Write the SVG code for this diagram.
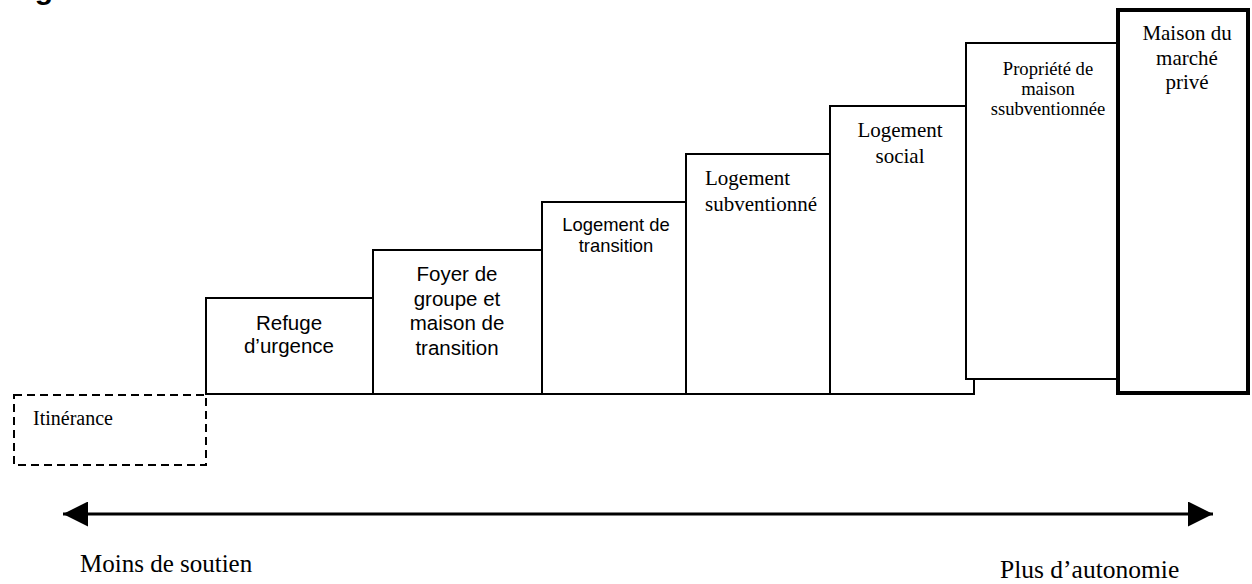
<svg xmlns="http://www.w3.org/2000/svg" width="1252" height="584" viewBox="0 0 1252 584">
<style>
.box{fill:#fff;stroke:#000;stroke-width:2}
.thick{fill:#fff;stroke:#000;stroke-width:4}
.dash{fill:none;stroke:#000;stroke-width:2;stroke-dasharray:8 5}
.sans{font-family:"Liberation Sans",Arial,sans-serif;fill:#000}
.serif{font-family:"Liberation Serif","Times New Roman",serif;fill:#000}
.c{text-anchor:middle}
.conn{stroke:#000;stroke-width:3;fill:none}
</style>
<defs>
<marker id="ah" viewBox="0 0 25 25" refX="25" refY="12.5" markerWidth="25" markerHeight="25" markerUnits="userSpaceOnUse" orient="auto-start-reverse">
<path d="M0,0 L25,12.5 L0,25 Z" fill="#000"/>
</marker>
</defs>
<rect width="1252" height="584" fill="#fff"/>
<text class="sans" x="8" y="-1.3" font-size="30" font-weight="bold">Figure</text>

<g id="itinerance">
<rect class="dash" x="14" y="395" width="192" height="70"/>
<text class="serif" x="33" y="425" font-size="20">Itinérance</text>
</g>
<g id="refuge">
<rect class="box" x="206" y="298" width="167" height="96"/>
<text class="sans c" x="289" y="330" font-size="20.5"><tspan x="289">Refuge</tspan><tspan x="289" dy="23">d’urgence</tspan></text>
</g>
<g id="foyer">
<rect class="box" x="373" y="250" width="169" height="144"/>
<text class="sans c" x="457" y="281" font-size="20.5"><tspan x="457">Foyer de</tspan><tspan x="457" dy="24.5">groupe et</tspan><tspan x="457" dy="24.5">maison de</tspan><tspan x="457" dy="24.5">transition</tspan></text>
</g>
<g id="transition">
<rect class="box" x="542" y="202" width="144" height="192"/>
<text class="sans c" x="616" y="231" font-size="18.4"><tspan x="616">Logement de</tspan><tspan x="616" dy="21">transition</tspan></text>
</g>
<g id="subventionne">
<rect class="box" x="686" y="154" width="144" height="240"/>
<text class="serif" x="705" y="185" font-size="21"><tspan x="705">Logement</tspan><tspan x="705" dy="25.5">subventionné</tspan></text>
</g>
<g id="social">
<rect class="box" x="830" y="106" width="144" height="288"/>
<text class="serif c" x="900" y="137" font-size="21"><tspan x="900">Logement</tspan><tspan x="900" dy="25.5">social</tspan></text>
</g>
<g id="propriete">
<rect class="box" x="966" y="43" width="151" height="336"/>
<text class="serif c" x="1048" y="75" font-size="18.6"><tspan x="1048">Propriété de</tspan><tspan x="1048" dy="20">maison</tspan><tspan x="1048" dy="20">ssubventionnée</tspan></text>
</g>
<g id="prive">
<rect class="thick" x="1118" y="10" width="130" height="383"/>
<text class="serif c" x="1187" y="40" font-size="21"><tspan x="1187">Maison du</tspan><tspan x="1187" dy="24.5">marché</tspan><tspan x="1187" dy="24.5">privé</tspan></text>
</g>

<g id="connectors">
<line class="conn" x1="63" y1="514" x2="1213" y2="514" marker-start="url(#ah)" marker-end="url(#ah)"/>
</g>
<g id="axis-labels">
<text class="serif" x="80" y="572" font-size="25">Moins de soutien</text>
<text class="serif" x="1000" y="578" font-size="25.5">Plus d’autonomie</text>
</g>
</svg>
